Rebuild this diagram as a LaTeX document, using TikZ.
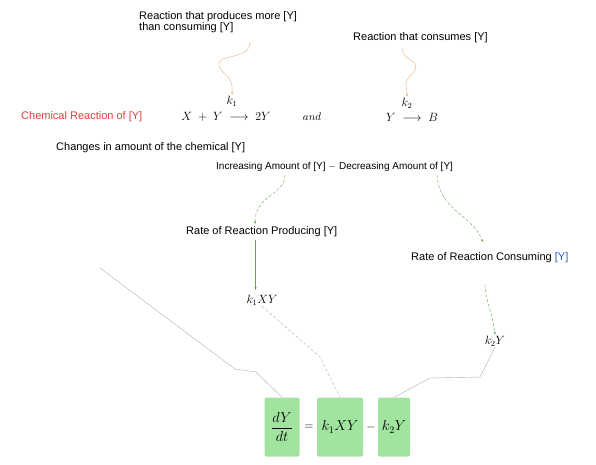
\documentclass[tikz,border=0pt]{standalone}
\usepackage{amsmath}
\usepackage{fontspec}
\setmainfont{Liberation Sans}
\usetikzlibrary{arrows.meta}

\definecolor{lblred}{RGB}{230,60,60}
\definecolor{lblblue}{RGB}{40,90,200}
\definecolor{wavyorange}{RGB}{240,175,120}
\definecolor{linkgreen}{RGB}{100,165,80}
\definecolor{boxgreen}{RGB}{160,228,160}
\definecolor{linkgrey}{RGB}{175,175,175}

\tikzset{
  lbl/.style={font=\fontsize{11}{11.5}\selectfont, inner sep=1pt},
  eqn/.style={font=\fontsize{12}{14}\selectfont, inner sep=1pt},
  termbox/.style={fill=boxgreen, rounded corners=2pt, minimum height=59pt, inner sep=1pt, font=\fontsize{14}{16}\selectfont},
  wavy/.style={wavyorange, thin, -{Stealth[length=3pt]}},
  greenlink/.style={draw=linkgreen, thin, densely dashed, -{Stealth[length=3pt]}},
  greylink/.style={linkgrey, thin}
}

\begin{document}
\begin{tikzpicture}[x=1pt, y=-1pt, >=stealth]
    \useasboundingbox (0,0) rectangle (596,464);

    % --- TEXTOS SUPERIORES ---
    \node[lbl, anchor=west, align=left] (produce) at (138,22)
        {Reaction that produces more [Y]\\than consuming [Y]};
    \node[lbl, anchor=west] (consume) at (352,38) {Reaction that consumes [Y]};

    % --- REACCIONES ---
    \node[lbl, anchor=west, text=lblred] (chem) at (20,117) {Chemical Reaction of [Y]};
    \node[eqn] (rxnA) at (226,117) {$X \;+\; Y \;\longrightarrow\; 2Y$};
    \node[eqn] (kA) at (232,101) {$k_1$};
    \node[eqn, font=\fontsize{11}{12}\selectfont] (and) at (312,117) {$and$};
    \node[eqn] (rxnB) at (412,117) {$Y \;\longrightarrow\; B$};
    \node[eqn] (kB) at (407,103) {$k_2$};

    % --- CAMBIO DE [Y] ---
    \node[lbl, anchor=west] (change) at (55,148) {Changes in amount of the chemical [Y]};
    \node[lbl, anchor=west, font=\fontsize{10}{11}\selectfont] (incdec) at (215,167)
        {Increasing Amount of [Y] $-$ Decreasing Amount of [Y]};
    \coordinate (inc) at (285,175);
    \coordinate (dec) at (437,175);

    % --- VELOCIDADES ---
    \node[lbl, anchor=west] (prod) at (185,232) {Rate of Reaction Producing [Y]};
    \node[lbl, anchor=west] (cons) at (410,258) {Rate of Reaction Consuming \textcolor{lblblue}{[Y]}};
    \node[eqn] (kXY) at (262,300) {$k_1XY$};
    \node[eqn] (kY) at (495,341) {$k_2Y$};
    \coordinate (prodTop) at (255,224);
    \coordinate (prodBot) at (255.5,240);
    \coordinate (prodEnd) at (255.5,290);
    \coordinate (consTop) at (483,242);
    \coordinate (consBot) at (485,284);

    % --- ECUACION FINAL ---
    \node[termbox, minimum width=35pt] (dYdt) at (282,427) {$\dfrac{dY}{dt}$};
    \node[eqn] (eq) at (309,427) {$=$};
    \node[termbox, minimum width=46pt] (gain) at (340,427) {$k_1XY$};
    \node[eqn] (minus) at (371,427) {$-$};
    \node[termbox, minimum width=32pt] (loss) at (394,427) {$k_2Y$};

    % --- FLECHAS NARANJAS ---
    \coordinate (wA) at (250,42);
    \coordinate (wB) at (402,48);
    \draw[wavy] (wA) .. controls (250,62) and (212,52) .. (220,68)
        .. controls (226,78) and (233,76) .. (kA.north);
    \draw[wavy] (wB) .. controls (402,62) and (425,60) .. (412,74)
        .. controls (402,84) and (407,84) .. (kB.north);

    % --- FLECHAS VERDES ---
    \draw[greenlink] (inc) .. controls (285,195) and (255,195) .. (prodTop);
    \draw[greenlink] (dec) .. controls (440,212) and (470,212) .. (consTop);
    \draw[greenlink, solid, line width=0.6pt] (prodBot) -- (prodEnd);
    \draw[greenlink] (consBot) .. controls (485,300) and (492,310) .. (kY.north);

    % --- LINEAS GRISES ---
    \coordinate (free) at (100,268);
    \draw[greylink] (free) -- (235,369) -- (256,372) -- (dYdt.north);
    \draw[greylink, densely dashed] (kXY.south) -- (320,357) -- (gain.north);
    \draw[greylink] (kY.south) -- (480,377) -- (430,378) -- (loss.north);

\end{tikzpicture}
\end{document}
